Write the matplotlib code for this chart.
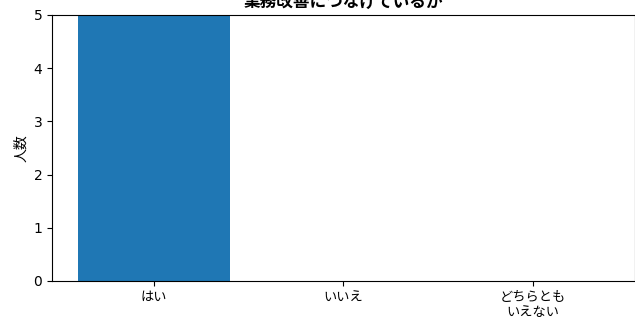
import matplotlib.pyplot as plt

plt.rcParams['font.family'] = ['Noto Sans CJK JP', 'DejaVu Sans']

categories = ['はい', 'いいえ', 'どちらとも\nいえない']
counts = [5, 0, 0]

fig = plt.figure(figsize=(6.35, 3.18), dpi=100)
ax = fig.add_axes([52 / 635, 1 - 281 / 318, 583 / 635, 266 / 318])

ax.bar(categories, counts, color='#1f77b4', width=0.8)
ax.set_ylim(0, 5)
ax.set_ylabel('人数', fontsize=10)
ax.set_title('業務改善につなげているか', fontweight='bold', fontsize=12, pad=6)
ax.tick_params(axis='y', labelsize=10)
ax.tick_params(axis='x', labelsize=9.5)
for lbl in ax.get_yticklabels():
    lbl.set_family('DejaVu Sans')

fig.savefig('out.png', dpi=100)
